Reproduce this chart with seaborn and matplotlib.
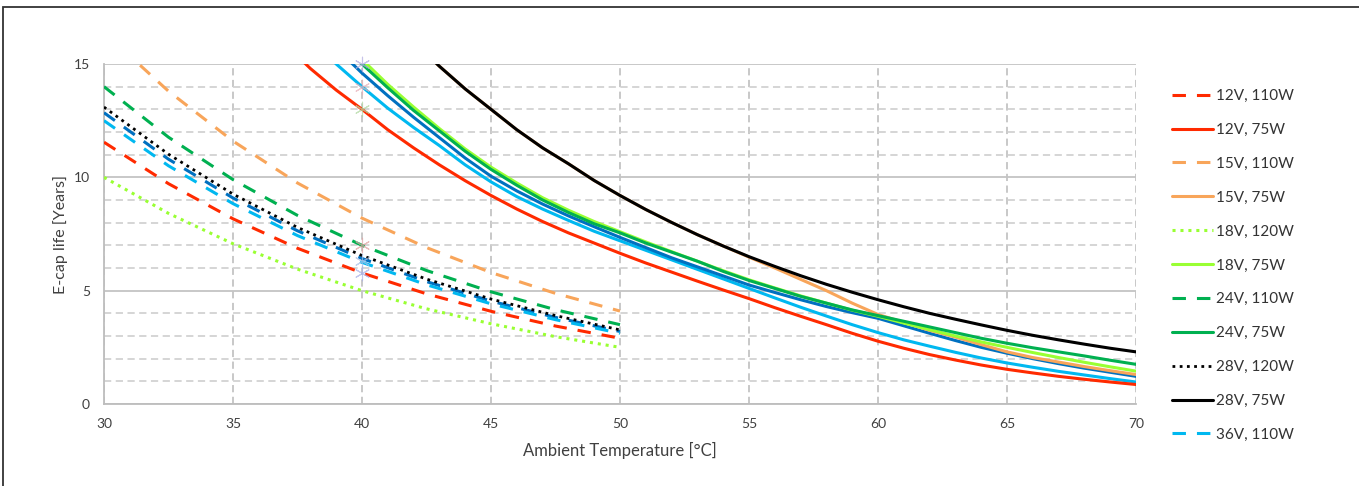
import matplotlib
matplotlib.use("Agg")
import matplotlib.pyplot as plt
from matplotlib.patches import Rectangle
import seaborn as sns
import pandas as pd

sns.set_theme(style="white")
plt.rcParams['font.family'] = ['Lato', 'DejaVu Sans']

# ---------------- data ----------------
t_short = [30, 32.5, 35, 37.5, 40, 42.5, 45, 47.5, 50]
v12_110 = [11.55, 9.72, 8.17, 6.87, 5.78, 4.86, 4.09, 3.44, 2.9]
v15_110 = [16.4, 13.8, 11.6, 9.75, 8.2, 6.9, 5.8, 4.88, 4.1]
v18_120 = [10.0, 8.41, 7.07, 5.95, 5.0, 4.2, 3.54, 2.97, 2.5]
v24_110 = [14.0, 11.77, 9.9, 8.32, 7.0, 5.89, 4.95, 4.16, 3.5]
v28_120 = [13.1, 11.02, 9.26, 7.79, 6.55, 5.51, 4.63, 3.9, 3.27]
v36_110 = [12.5, 10.51, 8.84, 7.43, 6.25, 5.26, 4.42, 3.72, 3.12]
vx_110 = [12.85, 10.8, 9.09, 7.64, 6.42, 5.4, 4.54, 3.82, 3.2]   # unlabeled dark-blue dashed

t_long = [35, 36, 37, 38, 39, 40, 41, 42, 43, 44, 45, 46, 47, 48, 49, 50, 51, 52,
          53, 54, 55, 56, 57, 58, 59, 60, 61, 62, 63, 64, 65, 66, 67, 68, 69, 70]
v28_75 = [26.0, 24.3, 22.7, 21.1, 19.7, 18.4, 17.2, 16.0, 14.9, 13.9, 13.0, 12.1,
          11.3, 10.6, 9.86, 9.2, 8.58, 8.01, 7.47, 6.97, 6.5, 6.07, 5.66, 5.28,
          4.93, 4.6, 4.29, 4.0, 3.74, 3.49, 3.25, 3.03, 2.83, 2.64, 2.46, 2.3]
v15_75 = [26.0, 24.3, 22.7, 21.1, 19.7, 18.4, 17.2, 16.0, 14.9, 13.9, 13.0, 12.1,
          11.3, 10.6, 9.86, 9.2, 8.58, 8.01, 7.47, 6.97, 6.48, 6.0, 5.5, 5.0,
          4.45, 3.95, 3.6, 3.25, 2.95, 2.62, 2.3, 2.05, 1.85, 1.65, 1.47, 1.3]
v12_75 = [18.3, 17.0, 15.9, 14.8, 13.85, 13.0, 12.1, 11.3, 10.55, 9.85, 9.2, 8.6,
          8.05, 7.55, 7.1, 6.65, 6.22, 5.82, 5.42, 5.03, 4.65, 4.25, 3.87, 3.5,
          3.12, 2.77, 2.46, 2.18, 1.94, 1.72, 1.53, 1.37, 1.22, 1.09, 0.97, 0.86]
vlb_75 = [20.5, 19.0, 17.5, 16.2, 15.0, 14.0, 13.05, 12.2, 11.4, 10.55, 9.8, 9.15,
          8.6, 8.1, 7.62, 7.2, 6.78, 6.36, 5.94, 5.52, 5.1, 4.68, 4.27, 3.88,
          3.5, 3.15, 2.83, 2.55, 2.28, 2.03, 1.81, 1.62, 1.44, 1.28, 1.12, 0.97]
vb_75 = [21.5, 20.0, 18.5, 17.1, 15.7, 14.6, 13.6, 12.65, 11.75, 10.85, 10.05, 9.4,
         8.82, 8.3, 7.82, 7.35, 6.9, 6.45, 6.05, 5.65, 5.25, 4.92, 4.6, 4.3,
         4.03, 3.78, 3.45, 3.12, 2.8, 2.5, 2.24, 2.0, 1.78, 1.58, 1.4, 1.22]
v24_75 = [22.0, 20.4, 18.9, 17.4, 16.1, 15.0, 13.95, 12.95, 12.05, 11.15, 10.35, 9.65,
          9.0, 8.45, 7.95, 7.55, 7.1, 6.7, 6.3, 5.85, 5.45, 5.1, 4.75, 4.45,
          4.15, 3.9, 3.65, 3.4, 3.15, 2.9, 2.68, 2.48, 2.3, 2.12, 1.93, 1.75]
v18_75 = [22.3, 20.7, 19.1, 17.6, 16.3, 15.2, 14.1, 13.1, 12.15, 11.25, 10.45, 9.75,
          9.1, 8.55, 8.05, 7.6, 7.15, 6.72, 6.3, 5.88, 5.48, 5.12, 4.77, 4.45,
          4.14, 3.87, 3.57, 3.28, 3.0, 2.74, 2.5, 2.27, 2.05, 1.84, 1.64, 1.45]

marker_x = [40, 40, 40, 40, 40, 40]
marker_y = [15.0, 14.0, 13.0, 7.0, 6.3, 5.8]
marker_c = ['#b0a8e0', '#e8b0b8', '#b0d8a0', '#e0a0a0', '#a8c0e8', '#a8b0e8']

x_ticks = [30, 35, 40, 45, 50, 55, 60, 65, 70]
y_ticks = [0, 5, 10, 15]

RED = '#ff2a00'
ORANGE = '#f8a55a'
LGREEN = '#99ff33'
GREEN = '#00b050'
BLACK = '#000000'
LBLUE = '#00b8f0'
DBLUE = '#0070c0'

DASH = (0, (4.4, 3.6))
DOT = (0, (1.0, 1.6))

series = [
    # label, x, y, color, style, lw, zorder
    ("_36V, 75W", t_long, vlb_75, LBLUE, '-', 2.2, 3),
    ("_48V, 75W", t_long, vb_75, DBLUE, '-', 2.2, 3),
    ("_48V, 110W", t_short, vx_110, DBLUE, DASH, 2.2, 3),
    ("12V, 110W", t_short, v12_110, RED, DASH, 2.2, 3),
    ("12V, 75W", t_long, v12_75, RED, '-', 2.2, 3),
    ("15V, 110W", t_short, v15_110, ORANGE, DASH, 2.2, 3),
    ("15V, 75W", t_long, v15_75, ORANGE, '-', 2.2, 3),
    ("18V, 120W", t_short, v18_120, LGREEN, DOT, 2.2, 3),
    ("24V, 75W", t_long, v24_75, GREEN, '-', 2.2, 3.1),
    ("18V, 75W", t_long, v18_75, LGREEN, '-', 2.2, 3),
    ("24V, 110W", t_short, v24_110, GREEN, DASH, 2.2, 3),
    ("36V, 110W", t_short, v36_110, LBLUE, DASH, 2.2, 3),
    ("28V, 120W", t_short, v28_120, BLACK, DOT, 2.0, 4),
    ("28V, 75W", t_long, v28_75, BLACK, '-', 2.2, 3.2),
]
legend_order = ["12V, 110W", "12V, 75W", "15V, 110W", "15V, 75W", "18V, 120W",
                "18V, 75W", "24V, 110W", "24V, 75W", "28V, 120W", "28V, 75W", "36V, 110W"]

W, H = 1359, 486
fig = plt.figure(figsize=(W / 100, H / 100), dpi=100)
ax = fig.add_axes([104 / W, 1 - 404 / H, (1136 - 104) / W, (404 - 64) / H])

for lab, xs, ys, col, ls, lw, z in series:
    df = pd.DataFrame({"T": xs, "L": ys})
    sns.lineplot(data=df, x="T", y="L", ax=ax, color=col, linestyle=ls,
                 linewidth=lw, label=lab, zorder=z, legend=False)

mdf = pd.DataFrame({"x": marker_x, "y": marker_y, "c": marker_c})
for _, r in mdf.iterrows():
    ax.scatter([r.x], [r.y], marker=(6, 2, 0), s=110, color=r.c, linewidths=0.8,
               alpha=0.7, zorder=5, clip_on=False)

ax.set_xlim(30, 70)
ax.set_ylim(0, 15)
ax.set_xticks(x_ticks)
ax.set_yticks(y_ticks)
ax.set_yticks(range(0, 16), minor=True)

ax.grid(False)
ax.yaxis.grid(True, which='major', color='#c4c4c4', linestyle='-', linewidth=1.3, zorder=0)
ax.yaxis.grid(True, which='minor', color='#d2d2d2', linestyle=(0, (4, 2.5)), linewidth=1.3, zorder=0)
ax.xaxis.grid(True, which='major', color='#c4c4c4', linestyle=(0, (4, 2.5)), linewidth=1.3, zorder=0)
ax.set_axisbelow(True)

for s in ['top', 'right']:
    ax.spines[s].set_visible(False)
for s in ['left', 'bottom']:
    ax.spines[s].set_color('#bdbdbd')
    ax.spines[s].set_linewidth(1.3)

ax.tick_params(axis='both', which='major', direction='out', length=5, width=1.2,
               color='#bdbdbd', labelsize=10, labelcolor='#404040', pad=5)
ax.tick_params(axis='y', which='minor', length=0)

ax.set_xlabel("Ambient Temperature [°C]", fontsize=12, color='#404040', labelpad=9)
ax.set_ylabel("E-cap life [Years]", fontsize=11.5, color='#404040', labelpad=4)

handles, labels = ax.get_legend_handles_labels()
hmap = dict(zip(labels, handles))
fig.legend([hmap[l] for l in legend_order], legend_order,
           loc='upper left', bbox_to_anchor=(1166 / W, 1 - 83 / H),
           frameon=False, fontsize=11, labelcolor='#333333',
           handlelength=2.68, handletextpad=0.2, labelspacing=1.3, borderaxespad=0)

fig.add_artist(Rectangle((3 / W, -0.05), 1.2, 1 - 7 / H + 0.05, transform=fig.transFigure,
                         fill=False, edgecolor='#333333', linewidth=1.3, clip_on=False))

fig.savefig("out.png", dpi=100)
